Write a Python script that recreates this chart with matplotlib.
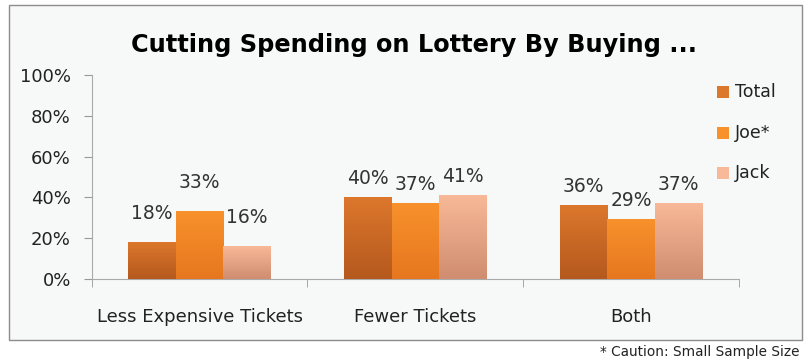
import numpy as np
import matplotlib.pyplot as plt
from matplotlib.colors import LinearSegmentedColormap
from matplotlib.patches import Rectangle

categories = ["Less Expensive Tickets", "Fewer Tickets", "Both"]
series = ["Total", "Joe*", "Jack"]
total = [18, 40, 36]
joe = [33, 37, 29]
jack = [16, 41, 37]
values = [total, joe, jack]

# top / bottom colours for the gradient fill
top_colors = ["#dc772c", "#f8912c", "#f8b998"]
bottom_colors = ["#b5591e", "#e6771f", "#d08d70"]
# gap between bar top and its value label, per category (first group sits higher)
label_pad = [9.5, 4.7, 4.7]

fig = plt.figure(figsize=(8.12, 3.62), dpi=100)
fig.patch.set_facecolor("white")

# chart area border
frame = Rectangle((0.011, 0.061), 0.977, 0.925, transform=fig.transFigure,
                  facecolor="#f7f8f8", edgecolor="#8c8c8c", linewidth=1.0, zorder=-1)
fig.patches.append(frame)

ax = fig.add_axes([0.113, 0.229, 0.797, 0.564])
ax.set_facecolor("none")

x = np.arange(len(categories))
width = 0.22
grad = np.linspace(0, 1, 100).reshape(-1, 1)

for i, (name, vals) in enumerate(zip(series, values)):
    cmap = LinearSegmentedColormap.from_list(name, [bottom_colors[i], top_colors[i]])
    pos = x + (i - 1) * width
    bars = ax.bar(pos, vals, width, color=top_colors[i], label=name, zorder=2)
    for j, (b, v) in enumerate(zip(bars, vals)):
        x0 = b.get_x()
        ax.imshow(grad, extent=(x0, x0 + width, 0, v), origin="lower", cmap=cmap,
                  aspect="auto", zorder=3)
        ax.text(b.get_x() + width / 2, v + label_pad[j], f"{v}%", ha="center",
                va="bottom", fontsize=13.5, color="#333333", zorder=4)

ax.set_xlim(-0.5, 2.5)
ax.set_ylim(0, 100)
ax.set_yticks(range(0, 101, 20))
ax.set_yticklabels([f"{t}%" for t in range(0, 101, 20)], fontsize=13, color="#222222")
ax.set_xticks(x)
ax.set_xticklabels(categories, fontsize=13, color="#222222")
ax.set_xticks([-0.5, 0.5, 1.5, 2.5], minor=True)
ax.tick_params(axis="x", which="major", length=0, pad=21)
ax.tick_params(axis="x", which="minor", length=6, color="#999999", direction="out")
ax.tick_params(axis="y", length=6, color="#999999", pad=9)

for s in ["top", "right"]:
    ax.spines[s].set_visible(False)
for s in ["left", "bottom"]:
    ax.spines[s].set_color("#aaaaaa")

fig.text(0.51, 0.875, "Cutting Spending on Lottery By Buying ...", ha="center",
         va="center", fontsize=17.3, fontweight="bold", color="black")

# legend
for i, name in enumerate(series):
    yy = 0.745 - i * 0.112
    fig.patches.append(Rectangle((0.883, yy - 0.016), 0.015, 0.033,
                                 transform=fig.transFigure, facecolor=top_colors[i],
                                 edgecolor="none"))
    fig.text(0.905, yy, name, ha="left", va="center", fontsize=12.5, color="#222222")

fig.text(0.985, 0.028, "* Caution: Small Sample Size", ha="right", va="center",
         fontsize=9.8, color="#222222")

fig.savefig("out.png", dpi=100)
